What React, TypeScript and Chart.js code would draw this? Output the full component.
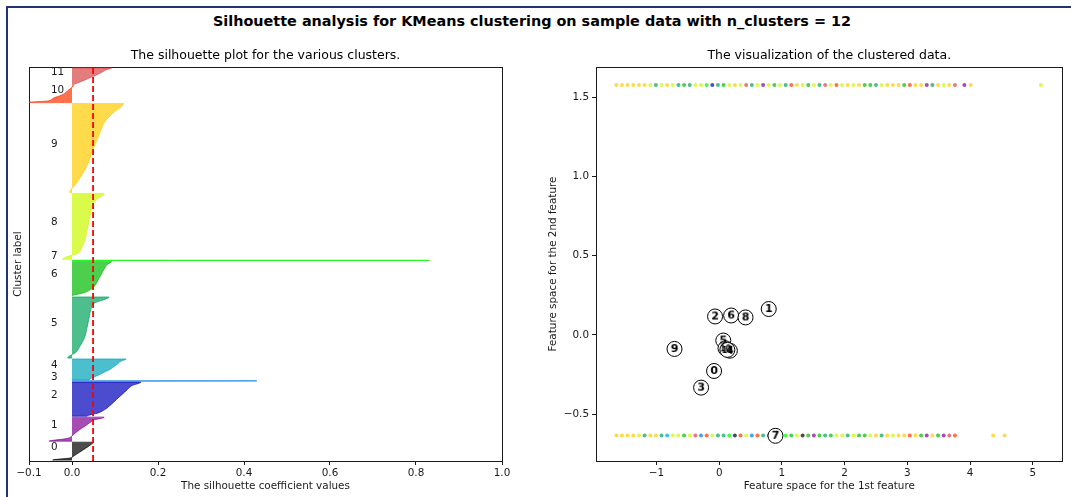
import React, { useEffect, useRef } from "react";
import { Chart, registerables } from "chart.js";

Chart.register(...registerables);

// ---------- text ----------
const SUPTITLE = "Silhouette analysis for KMeans clustering on sample data with n_clusters = 12";
const LEFT_TITLE = "The silhouette plot for the various clusters.";
const LEFT_XLABEL = "The silhouette coefficient values";
const LEFT_YLABEL = "Cluster label";
const RIGHT_TITLE = "The visualization of the clustered data.";
const RIGHT_XLABEL = "Feature space for the 1st feature";
const RIGHT_YLABEL = "Feature space for the 2nd feature";

// ---------- silhouette data ----------
const CLUSTER_LABELS = ["0", "1", "2", "3", "4", "5", "6", "7", "8", "9", "10", "11"];
const CLUSTER_SIZES = [188, 254, 359, 3, 220, 643, 365, 2, 694, 936, 178, 177];
const GAP = 10;
const SILHOUETTE_AVG = 0.049;

// sorted silhouette values per cluster (bottom -> top)
const SIL_0 = [-0.045, -0.005, 0.004, 0.011, 0.018, 0.025, 0.032, 0.039, 0.045, 0.05];
const SIL_1 = [-0.053, -0.012, 0.0, 0.007, 0.015, 0.024, 0.033, 0.042, 0.052, 0.075];
const SIL_2 = [0.035, 0.062, 0.077, 0.087, 0.096, 0.104, 0.113, 0.122, 0.13, 0.14, 0.16];
const SIL_3 = [0.16, 0.3, 0.43];
const SIL_4 = [0.04, 0.047, 0.058, 0.068, 0.078, 0.088, 0.095, 0.102, 0.108, 0.114, 0.126];
const SIL_5 = [-0.01, 0.01, 0.019, 0.027, 0.032, 0.035, 0.038, 0.041, 0.044, 0.052, 0.086];
const SIL_6 = [0.0, 0.029, 0.045, 0.053, 0.058, 0.062, 0.067, 0.071, 0.076, 0.081, 0.092];
const SIL_7 = [0.83, 0.832];
const SIL_8 = [-0.022, 0.015, 0.024, 0.03, 0.034, 0.037, 0.04, 0.043, 0.047, 0.055, 0.075];
const SIL_9 = [-0.005, 0.01, 0.023, 0.035, 0.043, 0.05, 0.059, 0.067, 0.077, 0.097, 0.12];
const SIL_10 = [-0.11, -0.056, -0.047, -0.04, -0.028, -0.02, -0.014, -0.01, -0.005, -0.001, 0.004];
const SIL_11 = [0.003, 0.012, 0.022, 0.031, 0.04, 0.05, 0.058, 0.066, 0.073, 0.08, 0.092];
const SILHOUETTE_VALUES = [SIL_0, SIL_1, SIL_2, SIL_3, SIL_4, SIL_5, SIL_6, SIL_7, SIL_8, SIL_9, SIL_10, SIL_11];

const SIL_X_TICKS = [-0.1, 0.0, 0.2, 0.4, 0.6, 0.8, 1.0];
const SIL_X_TICK_LABELS = ["\u22120.1", "0.0", "0.2", "0.4", "0.6", "0.8", "1.0"];

// ---------- scatter data ----------
const FEAT_X_TICKS = [-1, 0, 1, 2, 3, 4, 5];
const FEAT_X_TICK_LABELS = ["\u22121", "0", "1", "2", "3", "4", "5"];
const FEAT_Y_TICKS = [-0.5, 0.0, 0.5, 1.0, 1.5];
const FEAT_Y_TICK_LABELS = ["\u22120.5", "0.0", "0.5", "1.0", "1.5"];

const TOP_ROW_Y = 1.576;
const BOTTOM_ROW_Y = -0.635;

const TOP_ROW_X = [
  -1.64, -1.55, -1.46, -1.37, -1.28, -1.19, -1.1, -1.01, -0.92, -0.83, -0.74, -0.65, -0.56, -0.47, -0.38,
  -0.29, -0.2, -0.11, -0.02, 0.07, 0.16, 0.25, 0.34, 0.43, 0.52, 0.61, 0.7, 0.79, 0.88, 0.97, 1.06, 1.15,
  1.24, 1.33, 1.42, 1.51, 1.6, 1.69, 1.78, 1.87, 1.96, 2.05, 2.14, 2.23, 2.32, 2.41, 2.5, 2.59, 2.68, 2.77,
  2.86, 2.95, 3.04, 3.13, 3.22, 3.31, 3.4, 3.49, 3.58, 3.67, 3.76, 3.91, 4.01, 5.13,
];
const TOP_ROW_CLUSTER = [
  9, 9, 9, 9, 9, 9, 8, 5, 8, 9, 8, 5, 6, 5, 8, 8, 7, 2, 5, 6,
  8,
  9, 8, 11, 5, 8, 1, 8, 6, 8, 5, 10, 9, 8, 6, 8, 5, 11, 8, 10, 8, 9,
  8, 9, 6, 6, 5, 8, 9, 9, 9, 6, 10, 9, 9, 1, 5, 9, 8, 9, 11,
  1, 9, 8,
];

const BOTTOM_ROW_X = [
  -1.64, -1.55, -1.46, -1.37, -1.28, -1.19, -1.1, -1.01, -0.92, -0.83, -0.74, -0.65, -0.56, -0.47, -0.38,
  -0.29, -0.2, -0.11, -0.02, 0.07, 0.16, 0.25, 0.34, 0.43, 0.52, 0.61, 0.7, 0.79, 0.88, 0.97, 1.06, 1.15,
  1.24, 1.33, 1.42, 1.51, 1.6, 1.69, 1.78, 1.87, 1.96, 2.05, 2.14, 2.23, 2.32, 2.41, 2.5, 2.59, 2.68, 2.77,
  2.86, 2.95, 3.04, 3.13, 3.22, 3.31, 3.4, 3.49, 3.58, 3.67, 3.76, 4.37, 4.55,
];
const BOTTOM_ROW_CLUSTER = [
  9, 9, 9, 9, 8, 5, 9, 9, 5, 4, 8, 8, 6, 8, 11, 3, 10, 8, 5, 5, 7,
  0, 10, 8, 3, 10, 5, 10, 6, 7, 7, 6, 8, 0, 6, 1, 6, 5, 6, 8, 8, 5,
  8, 6, 6, 8, 9, 5, 9, 8, 9, 9, 10, 9, 6, 1, 9, 6, 1, 11, 10,
  9, 9,
];

const CENTER_X = [-0.082, 0.79, -0.066, -0.289, 0.17, 0.065, 0.19, 0.897, 0.42, -0.713, 0.1, 0.13];
const CENTER_Y = [-0.228, 0.163, 0.116, -0.333, -0.1, -0.036, 0.122, -0.637, 0.11, -0.089, -0.085, -0.095];

// ---------- style ----------
const CLUSTER_RGB = [
  "0,0,0", "130,0,147", "0,0,187", "0,119,221", "0,164,187", "0,164,91",
  "0,187,0", "0,244,0", "204,249,0", "255,204,0", "255,51,0", "215,68,68",
];
const FONT = "'DejaVu Sans', sans-serif";
const INK = "#1a1a1a";
const TICK_SIZE = 10.4;
const LABEL_SIZE = 10.4;
const SUBTITLE_SIZE = 12.5;

Chart.defaults.font.family = FONT;
Chart.defaults.color = INK;

function fixedWidth(w: number) {
  return (s: any) => {
    s.width = w;
  };
}
function fixedHeight(h: number) {
  return (s: any) => {
    s.height = h;
  };
}
function setTicks(values: number[]) {
  return (s: any) => {
    s.ticks = values.map((v) => ({ value: v }));
  };
}

const boxAxis = (position: string, min: number, max: number, horizontal: boolean) => ({
  type: "linear",
  position,
  min,
  max,
  ticks: { display: false },
  grid: { display: false, drawTicks: false },
  border: { display: true, color: INK, width: 1 },
  afterFit: horizontal ? fixedHeight(0) : fixedWidth(0),
});

function SilhouetteChart() {
  const ref = useRef<HTMLCanvasElement>(null);
  useEffect(() => {
    const datasets: any[] = [];
    const labelPositions: number[] = [];
    let yLower = GAP;
    CLUSTER_SIZES.forEach((size, i) => {
      const vals = SILHOUETTE_VALUES[i];
      const n = vals.length;
      const pts: { x: number; y: number }[] = [{ x: 0, y: yLower }];
      vals.forEach((v, k) => pts.push({ x: v, y: yLower + (size * k) / (n - 1) }));
      pts.push({ x: 0, y: yLower + size });
      datasets.push({
        data: pts,
        borderColor: `rgba(${CLUSTER_RGB[i]},0.7)`,
        backgroundColor: `rgba(${CLUSTER_RGB[i]},0.7)`,
        borderWidth: 1,
        fill: { value: 0 },
        pointRadius: 0,
        cubicInterpolationMode: "monotone",
        order: 100 - i,
      });
      labelPositions.push(yLower + size / 2);
      yLower += size + GAP;
    });
    const yMax = yLower;
    datasets.push({
      data: [
        { x: SILHOUETTE_AVG, y: 0 },
        { x: SILHOUETTE_AVG, y: yMax },
      ],
      borderColor: "rgb(255,0,0)",
      borderWidth: 1.8,
      borderDash: [6, 3],
      pointRadius: 0,
      fill: false,
      order: 0,
    });

    const chart = new Chart(ref.current!, {
      type: "line",
      data: { datasets },
      options: {
        indexAxis: "y",
        responsive: false,
        animation: false,
        events: [],
        layout: { padding: { left: 0, right: 38, top: 48, bottom: 0 } },
        plugins: {
          legend: { display: false },
          tooltip: { enabled: false },
          title: {
            display: true,
            text: LEFT_TITLE,
            fullSize: false,
            color: "#000",
            font: { size: SUBTITLE_SIZE, weight: "normal", family: FONT, lineHeight: 1.2 },
            padding: { top: 0, bottom: 4 },
          },
        },
        scales: {
          x: {
            type: "linear",
            position: "bottom",
            min: -0.1,
            max: 1.0,
            bounds: "data",
            afterBuildTicks: setTicks(SIL_X_TICKS),
            afterFit: fixedHeight(36),
            ticks: {
              autoSkip: false,
              maxRotation: 0,
              padding: 2,
              font: { size: TICK_SIZE },
              color: INK,
              callback: (_v: any, i: number) => SIL_X_TICK_LABELS[i],
            },
            grid: { drawOnChartArea: false, drawTicks: true, tickLength: 4, color: INK },
            border: { display: true, color: INK, width: 1 },
            title: {
              display: true,
              text: LEFT_XLABEL,
              color: INK,
              font: { size: LABEL_SIZE },
              padding: { top: 0, bottom: 4 },
            },
          },
          y: {
            type: "linear",
            position: "left",
            min: 0,
            max: yMax,
            bounds: "data",
            afterBuildTicks: setTicks(labelPositions),
            afterFit: fixedWidth(29),
            ticks: {
              mirror: true,
              padding: 22,
              labelOffset: -4,
              autoSkip: false,
              font: { size: TICK_SIZE },
              color: INK,
              callback: (_v: any, i: number) => CLUSTER_LABELS[i],
            },
            grid: { display: false, drawTicks: false },
            border: { display: true, color: INK, width: 1 },
            title: {
              display: true,
              text: LEFT_YLABEL,
              color: INK,
              font: { size: LABEL_SIZE },
              padding: { top: 12, bottom: 0 },
            },
          },
          xTop: boxAxis("top", -0.1, 1.0, true),
          yRight: boxAxis("right", 0, yMax, false),
        } as any,
      },
    } as any);
    return () => chart.destroy();
  }, []);
  return <canvas ref={ref} width={540} height={497} style={{ display: "block" }} />;
}

function makeLabelImage(text: string) {
  const c = document.createElement("canvas");
  c.width = 18;
  c.height = 14;
  const g = c.getContext("2d")!;
  g.fillStyle = "#000";
  g.textAlign = "center";
  g.textBaseline = "middle";
  g.font = text.length > 1 ? `bold 8px ${FONT}` : `bold 11px ${FONT}`;
  g.fillText(text, 9, 7.5);
  return c;
}

function ClusterScatter() {
  const ref = useRef<HTMLCanvasElement>(null);
  useEffect(() => {
    const color = (c: number) => `rgba(${CLUSTER_RGB[c]},0.7)`;
    const centers = CENTER_X.map((x, i) => ({ x, y: CENTER_Y[i] }));
    const labelImages = CENTER_X.map((_x, i) => makeLabelImage(CLUSTER_LABELS[i]));
    const chart = new Chart(ref.current!, {
      type: "scatter",
      data: {
        datasets: [
          {
            data: TOP_ROW_X.map((x) => ({ x, y: TOP_ROW_Y })),
            pointBackgroundColor: TOP_ROW_CLUSTER.map(color),
            pointBorderWidth: 0,
            pointRadius: 2,
            order: 3,
          },
          {
            data: BOTTOM_ROW_X.map((x) => ({ x, y: BOTTOM_ROW_Y })),
            pointBackgroundColor: BOTTOM_ROW_CLUSTER.map(color),
            pointBorderWidth: 0,
            pointRadius: 2,
            order: 2,
          },
          {
            data: centers,
            pointBackgroundColor: "#fff",
            pointBorderColor: "#000",
            pointBorderWidth: 1,
            pointRadius: 7.5,
            order: 1,
          },
          {
            data: centers,
            pointStyle: labelImages,
            pointRadius: 7,
            order: 0,
          },
        ],
      },
      options: {
        responsive: false,
        animation: false,
        events: [],
        layout: { padding: { left: 0, right: 3, top: 48, bottom: 0 } },
        plugins: {
          legend: { display: false },
          tooltip: { enabled: false },
          title: {
            display: true,
            text: RIGHT_TITLE,
            fullSize: false,
            color: "#000",
            font: { size: SUBTITLE_SIZE, weight: "normal", family: FONT, lineHeight: 1.2 },
            padding: { top: 0, bottom: 4 },
          },
        },
        scales: {
          x: {
            type: "linear",
            position: "bottom",
            min: -1.965,
            max: 5.475,
            bounds: "data",
            afterBuildTicks: setTicks(FEAT_X_TICKS),
            afterFit: fixedHeight(36),
            ticks: {
              autoSkip: false,
              maxRotation: 0,
              padding: 2,
              font: { size: TICK_SIZE },
              color: INK,
              callback: (_v: any, i: number) => FEAT_X_TICK_LABELS[i],
            },
            grid: { drawOnChartArea: false, drawTicks: true, tickLength: 4, color: INK },
            border: { display: true, color: INK, width: 1 },
            title: {
              display: true,
              text: RIGHT_XLABEL,
              color: INK,
              font: { size: LABEL_SIZE },
              padding: { top: 0, bottom: 4 },
            },
          },
          y: {
            type: "linear",
            position: "left",
            min: -0.796,
            max: 1.69,
            bounds: "data",
            afterBuildTicks: setTicks(FEAT_Y_TICKS),
            afterFit: fixedWidth(61),
            ticks: {
              autoSkip: false,
              padding: 3,
              font: { size: TICK_SIZE },
              color: INK,
              callback: (_v: any, i: number) => FEAT_Y_TICK_LABELS[i],
            },
            grid: { drawOnChartArea: false, drawTicks: true, tickLength: 4, color: INK },
            border: { display: true, color: INK, width: 1 },
            title: {
              display: true,
              text: RIGHT_YLABEL,
              color: INK,
              font: { size: LABEL_SIZE },
              padding: { top: 12, bottom: 0 },
            },
          },
          xTop: boxAxis("top", -1.965, 5.475, true),
          yRight: boxAxis("right", -0.796, 1.69, false),
        } as any,
      },
    } as any);
    return () => chart.destroy();
  }, []);
  return <canvas ref={ref} width={536} height={497} style={{ display: "block" }} />;
}

export default function App() {
  return (
    <div
      style={{
        position: "absolute",
        left: 0,
        top: 0,
        width: 1071,
        height: 497,
        overflow: "hidden",
        background: "#fff",
        fontFamily: FONT,
      }}
    >
      <div
        style={{
          position: "absolute",
          left: 0,
          top: 12,
          width: 1064,
          textAlign: "center",
          font: `bold 14.4px ${FONT}`,
          lineHeight: "18px",
          color: "#000",
          whiteSpace: "nowrap",
        }}
      >
        {SUPTITLE}
      </div>
      <div style={{ position: "absolute", left: 0, top: 0, width: 540, height: 497 }}>
        <SilhouetteChart />
      </div>
      <div style={{ position: "absolute", left: 535, top: 0, width: 536, height: 497 }}>
        <ClusterScatter />
      </div>
      <div
        style={{
          position: "absolute",
          left: 6,
          top: 6,
          width: 1200,
          height: 600,
          borderLeft: "2px solid #1f3470",
          borderTop: "2px solid #1f3470",
          pointerEvents: "none",
        }}
      />
    </div>
  );
}
